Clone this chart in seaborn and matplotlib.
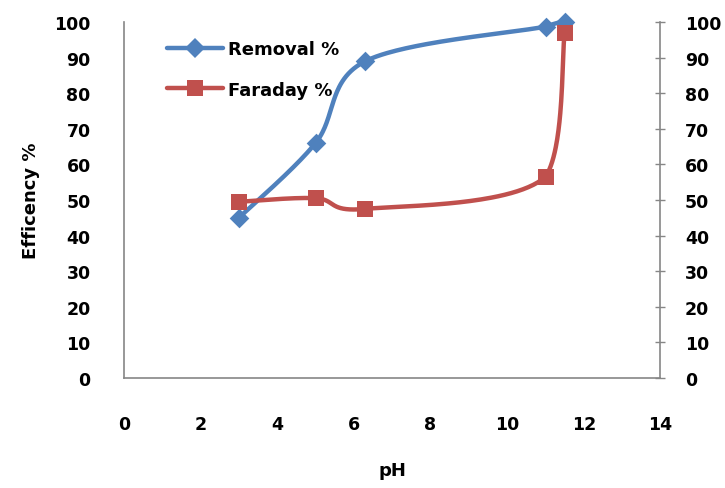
import numpy as np
import pandas as pd
import matplotlib
matplotlib.use("Agg")
import matplotlib.pyplot as plt
from matplotlib.lines import Line2D
import seaborn as sns

# Measured efficiencies versus pH
ph = [3, 5, 6.3, 11, 11.5]
removal = [45, 66, 89, 98.7, 100]
faraday = [49.5, 50.5, 47.5, 56.5, 97]

x_ticks = [0, 2, 4, 6, 8, 10, 12, 14]
y_ticks = [0, 10, 20, 30, 40, 50, 60, 70, 80, 90, 100]

BLUE = "#4F81BD"
RED = "#C0504D"
GREY = "#868686"


def smooth_curve(xs, ys, n=60):
    """Piecewise cubic Bezier through the points (Catmull-Rom style),
    with control points kept inside each segment's x range."""
    p = np.column_stack([xs, ys]).astype(float)
    ext = np.vstack([p[0], p, p[-1]])
    out = []
    t = np.linspace(0, 1, n)[:, None]
    for i in range(len(p) - 1):
        p0, p1, p2, p3 = ext[i], ext[i + 1], ext[i + 2], ext[i + 3]
        c1 = p1 + (p2 - p0) / 6.0
        c2 = p2 - (p3 - p1) / 6.0
        lo, hi = min(p1[0], p2[0]), max(p1[0], p2[0])
        c1[0] = np.clip(c1[0], lo, hi)
        c2[0] = np.clip(c2[0], lo, hi)
        seg = ((1 - t) ** 3) * p1 + 3 * ((1 - t) ** 2) * t * c1 \
            + 3 * (1 - t) * t ** 2 * c2 + t ** 3 * p2
        out.append(seg if i == 0 else seg[1:])
    arr = np.vstack(out)
    return arr[:, 0], arr[:, 1]


sns.set_theme(style="white")
plt.rcParams["font.family"] = ["DejaVu Sans"]
plt.rcParams["text.color"] = "black"
plt.rcParams["xtick.color"] = "black"
plt.rcParams["ytick.color"] = "black"
plt.rcParams["axes.labelcolor"] = "black"

fig = plt.figure(figsize=(7.25, 4.89), dpi=100)
ax = fig.add_axes([0.171, 0.225, 0.740, 0.728])

series = [("Removal %", removal, BLUE, "D", 10),
          ("Faraday %", faraday, RED, "s", 11)]

for name, vals, color, marker, ms in series:
    sx, sy = smooth_curve(ph, vals)
    curve = pd.DataFrame({"pH": sx, "eff": sy})
    sns.lineplot(data=curve, x="pH", y="eff", sort=False, estimator=None,
                 color=color, linewidth=3.2, ax=ax, zorder=2)
    ax.lines[-1].set_clip_on(False)
    pts = pd.DataFrame({"pH": ph, "eff": vals})
    sns.scatterplot(data=pts, x="pH", y="eff", marker=marker, s=ms ** 2,
                    color=color, edgecolor=color, linewidth=0, ax=ax, zorder=3)
    ax.collections[-1].set_clip_on(False)

ax.set_xlim(0, 14)
ax.set_ylim(0, 100)
ax.set_xticks(x_ticks)
ax.set_yticks(y_ticks)
ax.set_xticklabels([str(v) for v in x_ticks], fontsize=12.5, fontweight="bold")
ax.set_yticklabels([str(v) for v in y_ticks], fontsize=12.5, fontweight="bold")
ax.tick_params(axis="x", length=0, pad=27)
ax.tick_params(axis="y", length=0, pad=24)

for side in ["left", "bottom"]:
    ax.spines[side].set_color(GREY)
    ax.spines[side].set_linewidth(1.2)
for side in ["top", "right"]:
    ax.spines[side].set_visible(False)

ax.set_xlabel("pH", fontsize=13, fontweight="bold", labelpad=20)
ax.set_ylabel("Efficency %", fontsize=13, fontweight="bold", labelpad=10)

# Secondary scale on the right, same 0-100 range
ax2 = ax.twinx()
ax2.set_ylim(0, 100)
ax2.set_yticks(y_ticks)
ax2.set_yticklabels([str(v) for v in y_ticks], fontsize=12.5, fontweight="bold")
ax2.tick_params(axis="y", direction="inout", length=7, width=1, color=GREY, pad=14)
for side in ["top", "left", "bottom"]:
    ax2.spines[side].set_visible(False)
ax2.spines["right"].set_color(GREY)
ax2.spines["right"].set_linewidth(1.2)
ax2.grid(False)
ax.grid(False)
ax.set_zorder(ax2.get_zorder() + 1)
ax.patch.set_visible(False)

handles = [Line2D([0], [0], color=c, linewidth=3.2, marker=m, markersize=ms,
                  markeredgewidth=0)
           for _, _, c, m, ms in series]
ax.legend(handles, [s[0] for s in series], loc="upper left",
          bbox_to_anchor=(0.05, 0.995), frameon=False, handlelength=3.1,
          labelspacing=1.25, handletextpad=0.3,
          prop={"size": 13, "weight": "bold"})

fig.savefig("out.png", dpi=100)
